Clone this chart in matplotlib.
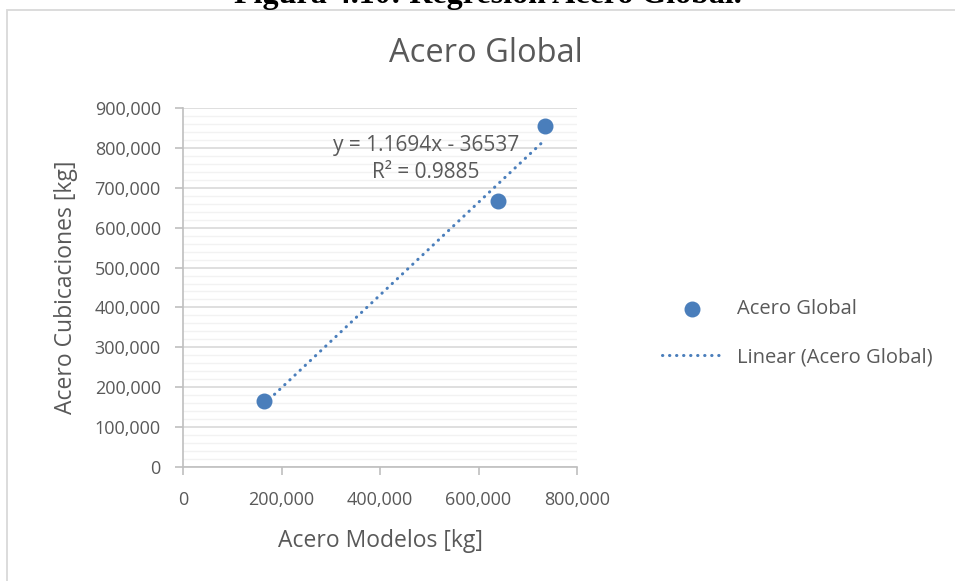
import matplotlib.pyplot as plt
import numpy as np
from matplotlib import font_manager
from matplotlib.patches import Rectangle
from matplotlib.ticker import FuncFormatter, MultipleLocator

# --- data ---
acero_modelos = [165000, 639000, 735000]
acero_cubicaciones = [165000, 667000, 855000]
equation_text = "y = 1.1694x - 36537"
r2_text = "R² = 0.9885"

series_name = "Acero Global"
trend_name = "Linear (Acero Global)"
x_label = "Acero Modelos [kg]"
y_label = "Acero Cubicaciones [kg]"
figure_caption = "Figura 4.10: Regresión Acero Global."

# --- style ---
names = {f.name for f in font_manager.fontManager.ttflist}
chart_font = ["Liberation Sans Narrow", "DejaVu Sans"] if "Liberation Sans Narrow" in names else ["Open Sans", "DejaVu Sans"]
plt.rcParams["font.family"] = chart_font
text_gray = "#595959"
blue = "#4A7EBB"

W, H = 955, 581
fig = plt.figure(figsize=(W / 100, H / 100), dpi=100)

# chart border and caption (caption is cut at the top edge, as in the source page)
fig.patches.append(Rectangle((7 / W, -0.05), 1.1, (H - 10) / H + 0.05, transform=fig.transFigure,
                             facecolor="none", edgecolor="#D9D9D9", linewidth=1.3, zorder=-1))
fig.text(488 / W, 1 - 3 / H, figure_caption, ha="center", va="baseline", fontsize=23,
         fontweight="bold", family=["Liberation Serif", "DejaVu Serif"], color="black")

ax = fig.add_axes([183 / W, (H - 467) / H, 394 / W, 359 / H])
ax.set_facecolor("none")

ax.scatter(acero_modelos, acero_cubicaciones, s=110, color=blue, zorder=3, label=series_name)

coef = np.polyfit(acero_modelos, acero_cubicaciones, 1)
xs = np.array([min(acero_modelos), max(acero_modelos)])
ax.plot(xs, np.polyval(coef, xs), color=blue, linewidth=2.2, linestyle=(0, (0.1, 2.2)),
        dash_capstyle="round", zorder=2, label=trend_name)

ax.set_xlim(0, 800000)
ax.set_ylim(0, 900000)
ax.xaxis.set_major_locator(MultipleLocator(200000))
ax.yaxis.set_major_locator(MultipleLocator(100000))
ax.yaxis.set_minor_locator(MultipleLocator(20000))
fmt = FuncFormatter(lambda v, p: f"{int(v):,}")
ax.xaxis.set_major_formatter(fmt)
ax.yaxis.set_major_formatter(fmt)

ax.grid(which="major", axis="y", color="#D9D9D9", linewidth=1.2, zorder=0)
ax.grid(which="minor", axis="y", color="#F2F2F2", linewidth=1.0, zorder=0)
ax.set_axisbelow(True)

for s in ["top", "right"]:
    ax.spines[s].set_visible(False)
for s in ["left", "bottom"]:
    ax.spines[s].set_color("#BFBFBF")
    ax.spines[s].set_linewidth(1.2)

ax.tick_params(axis="both", which="major", colors="#BFBFBF", labelcolor=text_gray,
               labelsize=13, length=6, width=1.2, direction="out")
ax.tick_params(axis="x", pad=11)
ax.tick_params(axis="y", pad=10)
ax.tick_params(axis="y", which="minor", length=0)

ax.set_xlabel(x_label, fontsize=16.5, color=text_gray, labelpad=15)
ax.set_ylabel(y_label, fontsize=16.5, color=text_gray, labelpad=12)
fig.text(486 / W, 1 - 53 / H, series_name, ha="center", va="center", fontsize=23.5, color=text_gray)

ax.text(426 / W, 1 - 145 / H, equation_text, transform=fig.transFigure, ha="center",
        va="center", fontsize=15, color=text_gray)
ax.text(426 / W, 1 - 173 / H, r2_text, transform=fig.transFigure, ha="center",
        va="center", fontsize=15, color=text_gray)

ax.legend(loc="center left", bbox_to_anchor=(644 / W, 1 - 333 / H), bbox_transform=fig.transFigure,
          frameon=False, fontsize=14.5, labelcolor=text_gray, handlelength=3.0, labelspacing=1.4,
          handletextpad=0.7)

fig.savefig("out.png", dpi=100)
